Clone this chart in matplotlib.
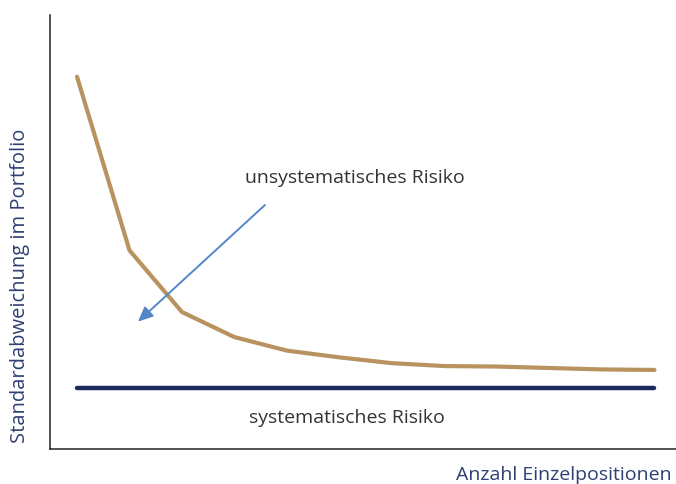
import matplotlib
matplotlib.use("Agg")
import matplotlib.pyplot as plt

# Number of single positions in the portfolio
positions = [1, 2, 3, 4, 5, 6, 7, 8, 9, 10, 11, 12]
# Portfolio standard deviation (total risk)
total_risk = [38.6, 20.6, 14.2, 11.6, 10.2, 9.5, 8.9, 8.6, 8.55, 8.4, 8.25, 8.2]
# Systematic (market) risk level
systematic_risk = 6.3

plt.rcParams['font.family'] = ['Open Sans', 'DejaVu Sans']

fig = plt.figure(figsize=(6.76, 4.84), dpi=100)
ax = fig.add_axes([0.074, 0.0723, 0.926, 0.8967])

ax.plot(positions, total_risk, color='#b8935f', lw=3.0, solid_capstyle='round',
        solid_joinstyle='round', zorder=3)
ax.plot([positions[0], positions[-1]], [systematic_risk, systematic_risk],
        color='#1c2a5e', lw=3.2, solid_capstyle='round', zorder=3)

ax.annotate('', xy=(2.16, 13.2), xytext=(4.58, 25.3),
            arrowprops=dict(arrowstyle='-|>,head_length=0.9,head_width=0.4',
                            color='#5387c9', lw=1.4, shrinkA=0, shrinkB=0),
            zorder=4)

ax.text(6.30, 28.1, 'unsystematisches Risiko', fontsize=14, color='#333333',
        ha='center', va='center')
ax.text(6.14, 3.2, 'systematisches Risiko', fontsize=14, color='#333333',
        ha='center', va='center')

ax.set_xlim(0.486, 12.41)
ax.set_ylim(0, 45)
ax.set_xticks([])
ax.set_yticks([])
for side in ('top', 'right'):
    ax.spines[side].set_visible(False)
for side in ('left', 'bottom'):
    ax.spines[side].set_color('#222222')
    ax.spines[side].set_linewidth(1.1)

fig.text(0.994, 0.0186, 'Anzahl Einzelpositionen', fontsize=14, color='#2e3f72',
         ha='right', va='center')
fig.text(0.0296, 0.409, 'Standardabweichung im Portfolio', fontsize=14.5,
         color='#2e3f72', rotation=90, ha='center', va='center')

fig.savefig('out.png', dpi=100)
